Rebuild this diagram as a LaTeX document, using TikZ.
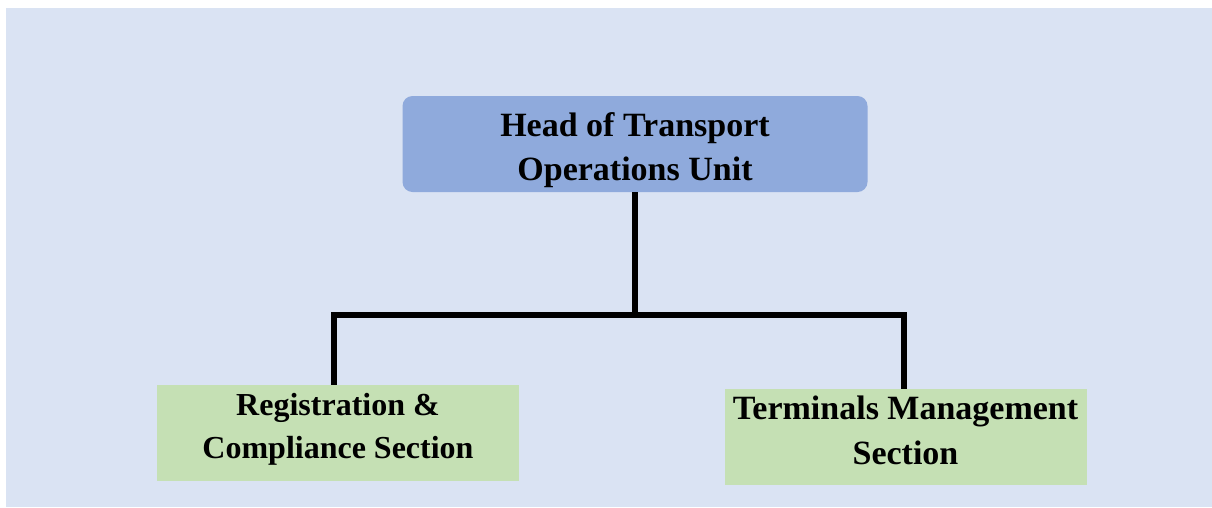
\documentclass[tikz,border=0pt]{standalone}
\usepackage{fontspec}
\setmainfont{Liberation Serif}
\definecolor{bgblue}{HTML}{DAE3F3}
\definecolor{headblue}{HTML}{8FAADC}
\definecolor{secgreen}{HTML}{C5E0B4}
\tikzset{
  unitbox/.style={rectangle, fill=headblue, rounded corners=10pt, minimum width=465pt, minimum height=96pt, inner sep=0pt},
  secbox/.style={rectangle, fill=secgreen, minimum width=362pt, minimum height=96pt, inner sep=0pt},
  boxtext/.style={anchor=base, align=center, inner sep=0pt, font=\bfseries\fontsize{34}{44}\selectfont},
  wire/.style={line width=6pt, black}
}
\begin{document}
\begin{tikzpicture}[x=1pt, y=-1pt]
    \useasboundingbox (0,0) rectangle (1212,507);
    % Background
    \fill[bgblue] (6,8) rectangle (1212,507);

    % Head of unit
    \node[unitbox] (head) at (635, 144) {};
    \node[boxtext] (headtext) at (635, 180) {Head of Transport\\Operations Unit};

    % Sections
    \node[secbox] (reg) at (338, 433) {};
    \node[boxtext, font=\bfseries\fontsize{32}{43}\selectfont] (regtext) at (338, 458) {Registration \&\\Compliance Section};
    \node[secbox] (term) at (905.5, 437) {};
    \node[boxtext, font=\bfseries\fontsize{34}{45}\selectfont] (termtext) at (905.5, 464) {Terminals Management\\Section};

    % Connectors
    \coordinate (busL) at (334, 315);
    \coordinate (busR) at (904, 315);
    \draw[wire] (head.south) -- (head.south |- busL);
    \draw[wire] (reg.north -| busL) -- (busL) -- (busR) -- (term.north -| busR);
\end{tikzpicture}
\end{document}
